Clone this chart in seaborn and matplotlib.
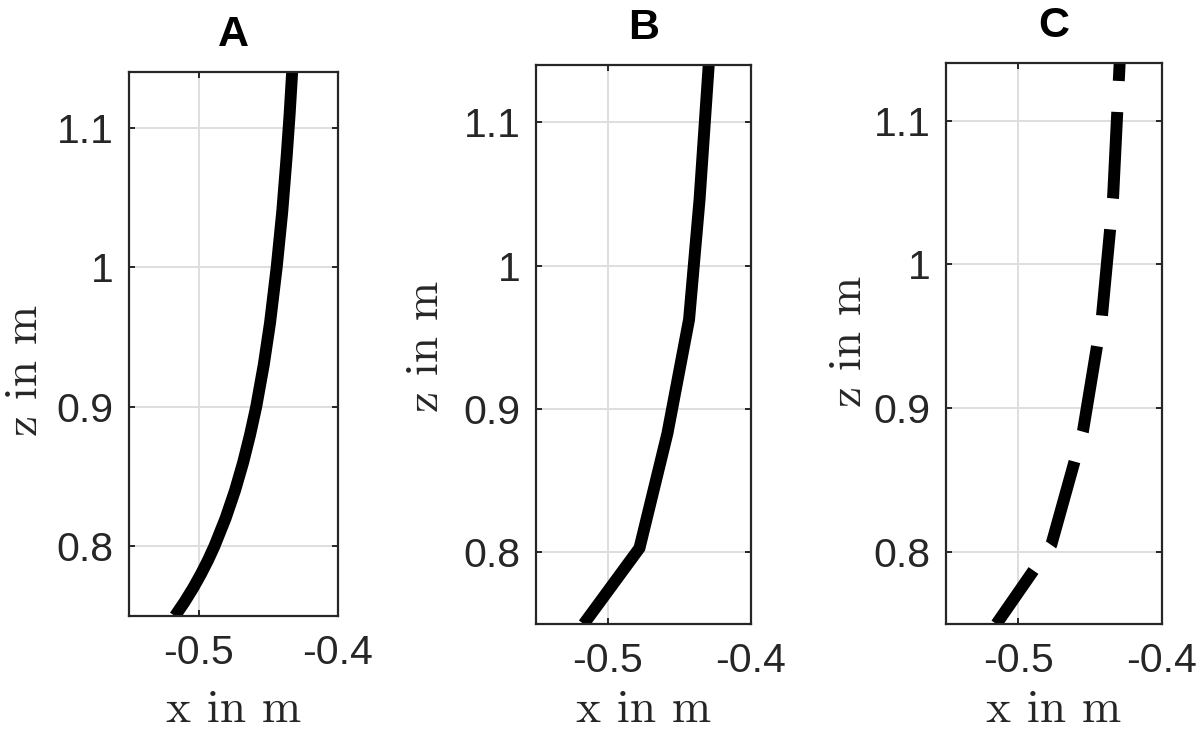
import numpy as np
import pandas as pd
import matplotlib
matplotlib.use('Agg')
import matplotlib.pyplot as plt
import seaborn as sns

# curves, listed from bottom to top
a_x = [-0.517, -0.5102, -0.504, -0.4984, -0.4933, -0.4887, -0.4807, -0.4739, -0.4681,
       -0.4631, -0.4587, -0.4533, -0.4488, -0.444, -0.440, -0.4368, -0.4347, -0.4329]
a_z = [0.75, 0.76, 0.77, 0.78, 0.79, 0.80, 0.82, 0.84, 0.86,
       0.88, 0.90, 0.93, 0.96, 1.00, 1.04, 1.08, 1.11, 1.14]

b_x = [-0.5167, -0.4778, -0.4583, -0.4432, -0.4359, -0.4295]
b_z = [0.75, 0.803, 0.883, 0.9625, 1.046, 1.14]

c_x = [-0.515, -0.4769, -0.4549, -0.4417, -0.434, -0.4294]
c_z = [0.75, 0.805, 0.884, 0.964, 1.046, 1.14]

panels = ['A', 'B', 'C']
x_ticks = [-0.5, -0.4]
x_ticklabels = ['-0.5', '-0.4']
z_ticks = [0.8, 0.9, 1.0, 1.1]
z_ticklabels = ['0.8', '0.9', '1', '1.1']

df = pd.concat([
    pd.DataFrame({'panel': 'A', 'x': a_x, 'z': a_z}),
    pd.DataFrame({'panel': 'B', 'x': b_x, 'z': b_z}),
    pd.DataFrame({'panel': 'C', 'x': c_x, 'z': c_z}),
])

sns.set_theme(style='ticks')
plt.rcParams['font.family'] = ['Liberation Sans', 'DejaVu Sans']
plt.rcParams['axes.edgecolor'] = '#262626'
plt.rcParams['axes.linewidth'] = 1.6
plt.rcParams['xtick.color'] = '#262626'
plt.rcParams['ytick.color'] = '#262626'

W, H = 1200, 732
fig = plt.figure(figsize=(W / 100, H / 100), dpi=100)
fig.patch.set_facecolor('white')

# axes boxes in pixels: left, right, top, bottom
boxes = {'A': (129, 338, 72, 616), 'B': (536, 751, 65, 624), 'C': (946, 1162, 63, 624)}
# centre of the z label in pixels
ylab_pos = {'A': (25, 370), 'B': (426, 346), 'C': (849, 341)}
styles = {'A': '-', 'B': '-', 'C': (1.8, (7.25, 2.6))}

for p in panels:
    l, r, t, b = boxes[p]
    ax = fig.add_axes([l / W, (H - b) / H, (r - l) / W, (b - t) / H])
    sub = df[df.panel == p]
    sns.lineplot(data=sub, x='x', y='z', sort=False, estimator=None, ax=ax,
                 color='black', linewidth=8.6, linestyle=styles[p],
                 solid_capstyle='butt', dash_capstyle='butt', solid_joinstyle='miter')
    ax.set_xlim(-0.55, -0.4)
    ax.set_ylim(0.75, 1.14)
    ax.set_xticks(x_ticks, x_ticklabels)
    ax.set_yticks(z_ticks, z_ticklabels)
    ax.grid(True, color='#dedede', linewidth=1.4)
    ax.set_axisbelow(True)
    ax.tick_params(direction='in', top=True, right=True, length=4, width=1.4,
                   labelsize=29.5, labelcolor='#262626')
    ax.tick_params(axis='x', pad=13)
    ax.tick_params(axis='y', pad=11)
    for s in ax.spines.values():
        s.set_visible(True)
        s.set_zorder(5)
    ax.set_title(p, fontsize=31, fontweight='bold', pad=19, color='black')

    ax.set_xlabel('x in m', family='cmr10', fontsize=34, color='#262626')
    ax.set_ylabel('z in m', family='cmr10', fontsize=34, color='#262626')
    ax.xaxis.label.set_va('center')
    ax.yaxis.label.set_va('center')
    ax.xaxis.set_label_coords(0.5, (b - 710) / (b - t))
    lx, ly = ylab_pos[p]
    ax.yaxis.set_label_coords((lx - l) / (r - l), (b - ly) / (b - t))

fig.savefig('out.png', dpi=100, facecolor='white')
